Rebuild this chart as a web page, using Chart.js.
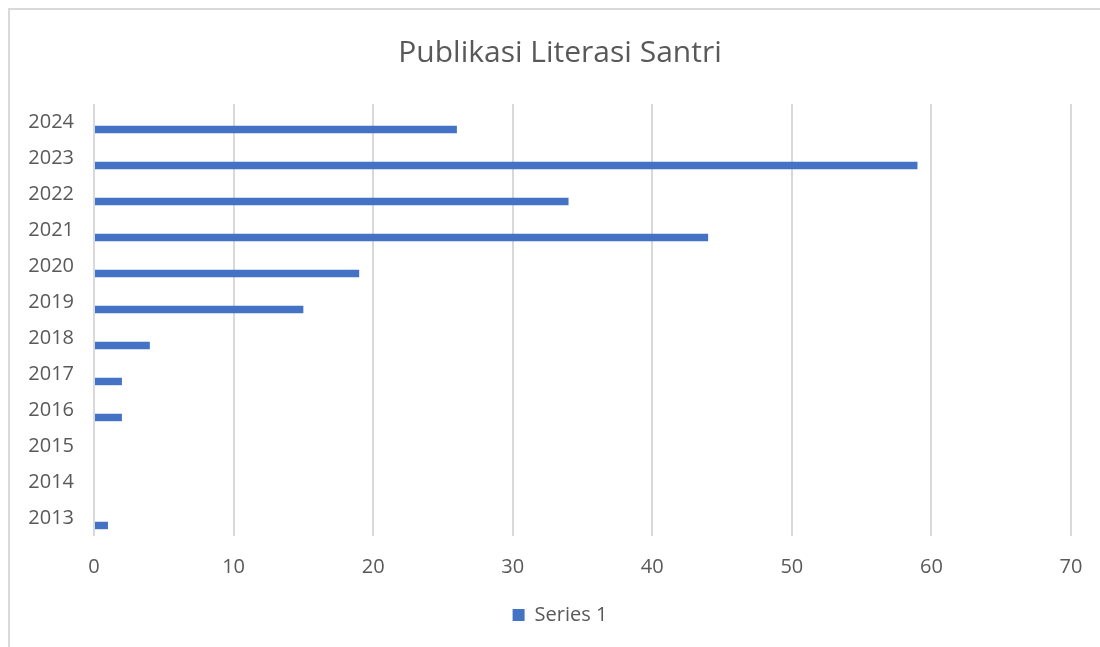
<!DOCTYPE html>
<html>
<head>
<meta charset="utf-8">
<script src="https://cdn.jsdelivr.net/npm/chart.js@4"></script>
<style>
  html, body { margin: 0; padding: 0; background: #fff; overflow: hidden; }
  #frame { position: absolute; left: 8px; top: 8px; width: 1200px; height: 800px;
           border-left: 2px solid #d9d9d9; border-top: 2px solid #d9d9d9; }
  #wrap { position: absolute; left: 0; top: 0; width: 1120px; height: 647px; }
</style>
</head>
<body>
<div id="frame"></div>
<div id="wrap"><canvas id="chart" width="1120" height="647"></canvas></div>
<script>
const years = ['2024', '2023', '2022', '2021', '2020', '2019', '2018', '2017', '2016', '2015', '2014', '2013'];
const series1 = [26, 59, 34, 44, 19, 15, 4, 2, 2, 0, 0, 1];
const xTicks = [0, 10, 20, 30, 40, 50, 60, 70];

const textColor = '#595959';
const gridColor = '#d9d9d9';
const barColor = '#4472c4';
const fontFamily = '"Open Sans", "Noto Sans", sans-serif';

// Excel default template has 3 series per group; Series 1 sits at the bottom slot
const empty = years.map(() => null);

const ctx = document.getElementById('chart').getContext('2d');
const chart = new Chart(ctx, {
    type: 'bar',
    data: {
        labels: years,
        datasets: [
            { label: 'Series 3', data: empty, backgroundColor: barColor },
            { label: 'Series 2', data: empty, backgroundColor: barColor },
            {
                label: 'Series 1',
                data: series1,
                backgroundColor: barColor,
                borderWidth: 0
            }
        ]
    },
    options: {
        indexAxis: 'y',
        responsive: false,
        animation: false,
        layout: { padding: { left: 0, right: 0, top: 0, bottom: 12 } },
        datasets: { bar: { categoryPercentage: 3 / 4.82, barPercentage: 1 } },
        scales: {
            x: {
                min: 0,
                max: 70,
                afterBuildTicks: scale => { scale.ticks = xTicks.map(v => ({ value: v })); },
                afterFit: scale => { scale.paddingRight = 49; },
                grid: { color: gridColor, lineWidth: 2, drawTicks: false },
                border: { display: false },
                ticks: { color: textColor, font: { family: fontFamily, size: 20 }, padding: 19 }
            },
            y: {
                grid: { display: false, drawTicks: false },
                border: { display: false },
                ticks: { color: textColor, font: { family: fontFamily, size: 20 }, padding: 20 },
                afterFit: scale => { scale.width = 94; }
            }
        },
        plugins: {
            title: {
                display: true,
                text: 'Publikasi Literasi Santri',
                color: textColor,
                font: { family: fontFamily, size: 30, weight: 'normal' },
                padding: { top: 35, bottom: 33 }
            },
            legend: {
                position: 'bottom',
                labels: {
                    filter: item => item.text === 'Series 1',
                    color: textColor,
                    font: { family: fontFamily, size: 20 },
                    boxWidth: 12,
                    boxHeight: 12,
                    padding: 7
                }
            },
            tooltip: { enabled: false }
        }
    }
});
</script>
</body>
</html>
